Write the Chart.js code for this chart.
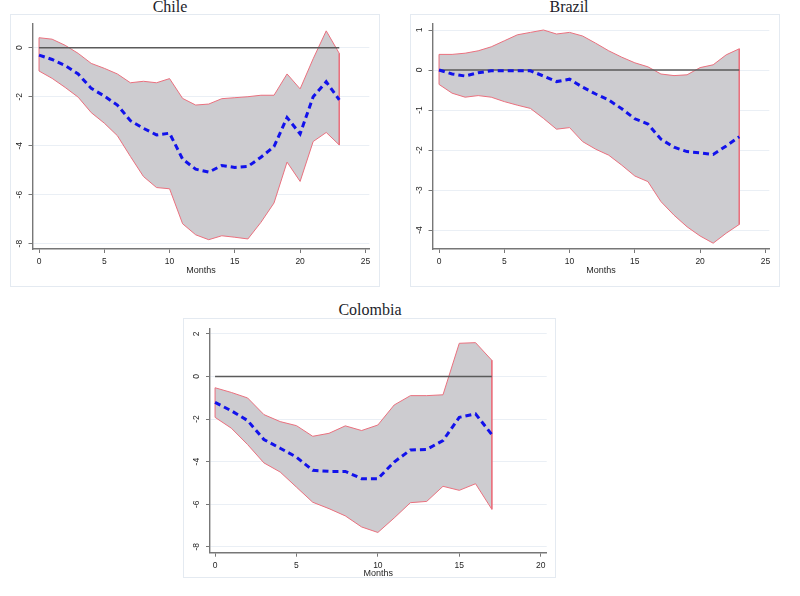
<!DOCTYPE html>
<html><head><meta charset="utf-8">
<script src="https://cdn.jsdelivr.net/npm/chart.js@4.4.1/dist/chart.umd.min.js"></script>
<style>
html,body{margin:0;padding:0;background:#fff;width:800px;height:596px;overflow:hidden;position:relative}
.panel{position:absolute;border:1px solid #e4eaf1;box-sizing:border-box}
.title{position:absolute;font-family:'Liberation Serif','Times New Roman',serif;font-size:16px;line-height:16px;color:#1d1d2a;white-space:nowrap;transform:translateX(-50%)}
canvas{position:absolute}
</style></head><body>
<div class="panel" style="left:10px;top:14px;width:370px;height:273px"></div>
<div class="panel" style="left:410px;top:14px;width:370px;height:273px"></div>
<div class="panel" style="left:183px;top:318px;width:373px;height:260px"></div>
<div class="title" style="left:170px;top:-1px">Chile</div>
<div class="title" style="left:569px;top:-1px">Brazil</div>
<div class="title" style="left:370px;top:302px">Colombia</div>
<canvas id="chile" width="370" height="273" style="left:10px;top:14px;width:370px;height:273px"></canvas>
<canvas id="brazil" width="370" height="273" style="left:410px;top:14px;width:370px;height:273px"></canvas>
<canvas id="colombia" width="373" height="265" style="left:183px;top:318px;width:373px;height:265px"></canvas>
<script>
// ---- data ----
const months24 = [0,1,2,3,4,5,6,7,8,9,10,11,12,13,14,15,16,17,18,19,20,21,22,23];
const months18 = [0,1,2,3,4,5,6,7,8,9,10,11,12,13,14,15,16,17];

const chileUpper = [0.41,0.35,0.10,-0.23,-0.64,-0.84,-1.07,-1.43,-1.37,-1.43,-1.26,-2.07,-2.34,-2.30,-2.08,-2.04,-2.00,-1.94,-1.94,-1.07,-1.68,-0.45,0.69,-0.23];
const chileLower = [-0.95,-1.25,-1.62,-2.02,-2.65,-3.08,-3.59,-4.44,-5.26,-5.71,-5.76,-7.19,-7.64,-7.84,-7.68,-7.74,-7.81,-7.13,-6.34,-4.67,-5.46,-3.83,-3.46,-3.97];
const chileMean  = [-0.30,-0.48,-0.73,-1.07,-1.66,-1.97,-2.34,-2.98,-3.29,-3.56,-3.49,-4.55,-4.96,-5.08,-4.81,-4.89,-4.85,-4.47,-4.04,-2.85,-3.52,-2.00,-1.39,-2.13];

const brazilUpper = [0.39,0.39,0.42,0.48,0.58,0.73,0.88,0.94,1.00,0.90,0.94,0.85,0.67,0.48,0.32,0.18,0.08,-0.10,-0.14,-0.12,0.06,0.13,0.38,0.53];
const brazilLower = [-0.36,-0.58,-0.68,-0.64,-0.68,-0.79,-0.88,-0.96,-1.21,-1.48,-1.44,-1.79,-1.98,-2.13,-2.38,-2.65,-2.79,-3.29,-3.63,-3.92,-4.15,-4.33,-4.08,-3.86];
const brazilMean  = [0.00,-0.10,-0.15,-0.07,-0.02,-0.02,-0.02,-0.02,-0.15,-0.29,-0.23,-0.43,-0.60,-0.75,-0.97,-1.22,-1.35,-1.73,-1.93,-2.04,-2.07,-2.11,-1.90,-1.67];

const colombiaUpper = [-0.53,-0.75,-1.01,-1.79,-2.12,-2.31,-2.81,-2.67,-2.32,-2.54,-2.28,-1.34,-0.90,-0.90,-0.86,1.56,1.59,0.76];
const colombiaLower = [-1.92,-2.43,-3.20,-4.06,-4.49,-5.20,-5.91,-6.21,-6.55,-7.07,-7.33,-6.65,-5.93,-5.87,-5.16,-5.35,-5.04,-6.24];
const colombiaMean  = [-1.22,-1.61,-2.07,-2.96,-3.37,-3.79,-4.41,-4.46,-4.46,-4.80,-4.80,-4.02,-3.45,-3.43,-3.01,-1.92,-1.76,-2.73];

const zeroLevel = [0, 0];

const xTicks24 = [0,5,10,15,20,25];
const xTicks18 = [0,5,10,15,20];
const yTicksChile = [-8,-6,-4,-2,0];
const yTicksBrazil = [-4,-3,-2,-1,0,1];
const yTicksColombia = [-8,-6,-4,-2,0,2];
const xTitle = 'Months';

// ---- styling ----
Chart.defaults.font.family = "'Liberation Sans', Arial, sans-serif";
const FILL = 'rgb(205,204,208)';
const EDGE = 'rgb(234,112,126)';
const BLUE = 'rgb(18,18,235)';
const ZERO = 'rgb(90,90,90)';
const AXIS = '#777777';

function build(id, months, upper, lower, mean, xTicks, yTicks, lay) {
  const pts = (arr) => arr.map((v, i) => ({x: months[i], y: v}));
  const up = pts(upper);
  const lo = pts(lower).reverse();
  const band = up.concat(lo, [up[0]]);
  const zero = [{x: months[0], y: zeroLevel[0]}, {x: months[months.length - 1], y: zeroLevel[1]}];
  new Chart(document.getElementById(id), {
    type: 'line',
    data: {
      datasets: [
        {data: pts(mean), borderColor: BLUE, borderWidth: 3, borderDash: [6, 4], fill: false, pointRadius: 0, tension: 0},
        {data: zero, borderColor: ZERO, borderWidth: 1.7, fill: false, pointRadius: 0},
        {data: band, borderColor: EDGE, borderWidth: 1, backgroundColor: FILL, fill: 'shape', pointRadius: 0, tension: 0}
      ]
    },
    options: {
      responsive: false, animation: false, devicePixelRatio: 1,
      layout: {padding: lay.pad},
      plugins: {legend: {display: false}, tooltip: {enabled: false}, filler: {drawTime: 'beforeDatasetsDraw'}},
      scales: {
        x: {
          type: 'linear', min: lay.xmin, max: lay.xmax,
          afterBuildTicks: s => { s.ticks = xTicks.map(v => ({value: v})); },
          afterFit: s => { s.height = lay.xh; },
          grid: {drawOnChartArea: false, tickLength: 4, tickColor: AXIS, tickWidth: 1},
          border: {display: true, color: AXIS, width: 1.4},
          ticks: {font: {size: 8.5}, color: '#262626', padding: 3.5, maxRotation: 0, autoSkip: false},
          title: {display: true, text: xTitle, font: {size: 9}, color: '#1f1f1f', padding: 0}
        },
        y: {
          type: 'linear', min: lay.ymin, max: lay.ymax,
          afterBuildTicks: s => { s.ticks = yTicks.map(v => ({value: v})); },
          afterFit: s => { s.width = lay.yw; },
          grid: {color: 'rgba(214,224,236,0.5)', lineWidth: 1, tickLength: 4, tickColor: AXIS, tickWidth: 1},
          border: {display: true, color: AXIS, width: 1.4},
          ticks: {font: {size: 8.5}, color: '#262626', minRotation: 90, maxRotation: 90, crossAlign: 'center', padding: lay.ypad, autoSkip: false}
        }
      }
    }
  });
}

build('chile', months24, chileUpper, chileLower, chileMean, xTicks24, yTicksChile,
  {pad: {left: 0, top: 10, right: 10.7, bottom: 11.5}, xmin: -0.5, xmax: 25.3, ymin: -8.22, ymax: 0.97, xh: 26.5, yw: 22.5, ypad: 4.7});
build('brazil', months24, brazilUpper, brazilLower, brazilMean, xTicks24, yTicksBrazil,
  {pad: {left: 0, top: 10, right: 10.7, bottom: 11.5}, xmin: -0.5, xmax: 25.3, ymin: -4.475, ymax: 1.15, xh: 26.5, yw: 22.5, ypad: 4.7});
build('colombia', months18, colombiaUpper, colombiaLower, colombiaMean, xTicks18, yTicksColombia,
  {pad: {left: 0, top: 10, right: 9.3, bottom: 3.8}, xmin: -0.31, xmax: 20.37, ymin: -8.28, ymax: 2.25, xh: 26.5, yw: 27, ypad: 5.5});
</script>
</body></html>
